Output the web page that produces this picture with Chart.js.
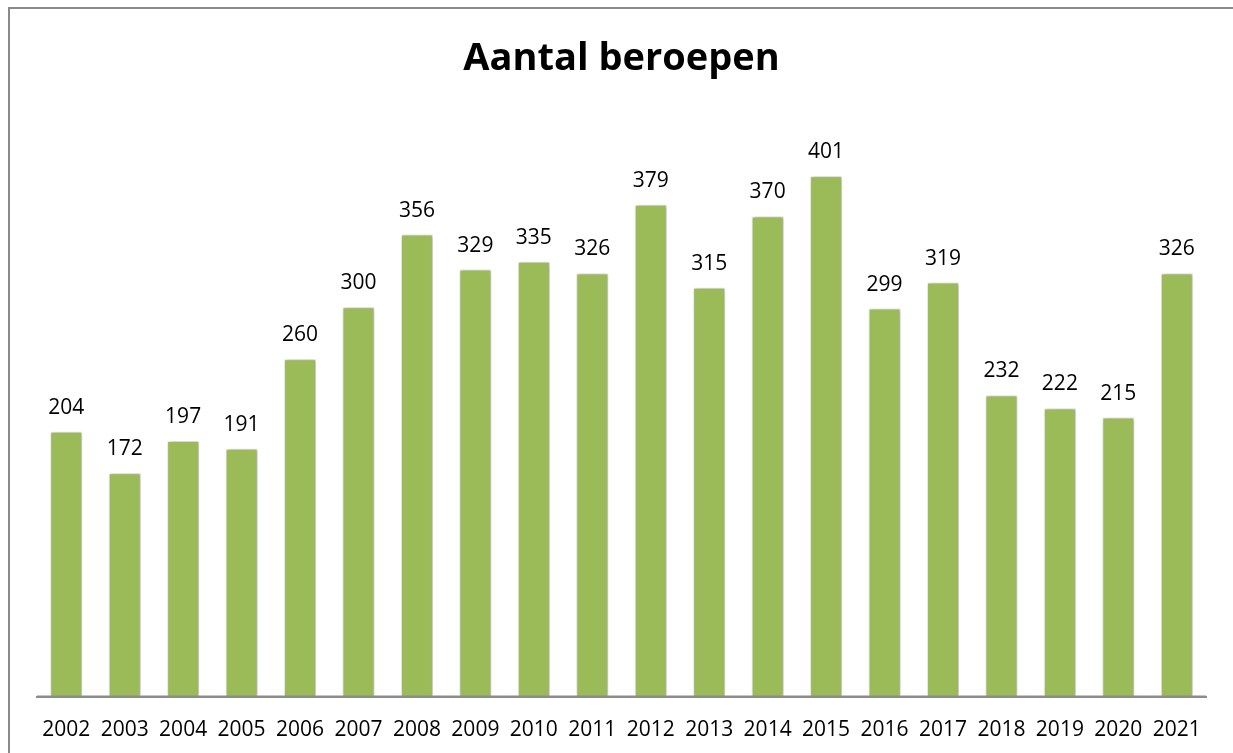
<!DOCTYPE html>
<html>
<head>
<meta charset="utf-8">
<script src="https://cdn.jsdelivr.net/npm/chart.js@4.4.1/dist/chart.umd.min.js"></script>
<style>
html,body{margin:0;padding:0;background:#fff;}
#wrap{position:relative;width:1233px;height:753px;}
</style>
</head>
<body>
<div id="wrap"><canvas id="c" width="1233" height="753"></canvas></div>
<script>
const titleText = 'Aantal beroepen';
const years = ['2002','2003','2004','2005','2006','2007','2008','2009','2010','2011','2012','2013','2014','2015','2016','2017','2018','2019','2020','2021'];
const beroepen = [204,172,197,191,260,300,356,329,335,326,379,315,370,401,299,319,232,222,215,326];

const FONT = "'Open Sans', 'DejaVu Sans', sans-serif";

const frame = {
  id: 'frame',
  beforeDraw(chart) {
    const ctx = chart.ctx;
    ctx.save();
    ctx.fillStyle = '#fff';
    ctx.fillRect(0, 0, chart.width, chart.height);
    ctx.strokeStyle = '#8a8a8a';
    ctx.lineWidth = 2;
    ctx.beginPath();
    ctx.moveTo(9, chart.height);
    ctx.lineTo(9, 8);
    ctx.lineTo(chart.width, 8);
    ctx.stroke();
    ctx.restore();
  }
};

const shadow = {
  id: 'shadow',
  beforeDatasetsDraw(chart) {
    const ctx = chart.ctx;
    ctx.save();
    ctx.shadowColor = 'rgba(0,0,0,0.35)';
    ctx.shadowBlur = 4;
    ctx.shadowOffsetX = 1;
    ctx.shadowOffsetY = 0;
  },
  afterDatasetsDraw(chart) {
    chart.ctx.restore();
    const ctx = chart.ctx;
    const a = chart.chartArea;
    ctx.save();
    ctx.strokeStyle = '#8c8c8c';
    ctx.lineWidth = 2;
    ctx.beginPath();
    ctx.moveTo(a.left, a.bottom);
    ctx.lineTo(a.right, a.bottom);
    ctx.stroke();
    ctx.restore();
  }
};

const valueLabels = {
  id: 'valueLabels',
  afterDatasetsDraw(chart) {
    const ctx = chart.ctx;
    const meta = chart.getDatasetMeta(0);
    ctx.save();
    ctx.font = '21px ' + FONT;
    ctx.fillStyle = '#000';
    ctx.textAlign = 'center';
    ctx.textBaseline = 'middle';
    meta.data.forEach((bar, i) => {
      ctx.fillText(String(beroepen[i]), bar.x, bar.y - 24);
    });
    ctx.restore();
  }
};

new Chart(document.getElementById('c'), {
  type: 'bar',
  data: {
    labels: years,
    datasets: [{
      data: beroepen,
      backgroundColor: '#9bbb59',
      borderColor: 'rgba(255,255,255,0.7)',
      borderWidth: 1,
      categoryPercentage: 1,
      barPercentage: 0.547
    }]
  },
  options: {
    responsive: false,
    animation: false,
    layout: { padding: { left: 37, right: 27, top: 32, bottom: 0 } },
    plugins: {
      legend: { display: false },
      tooltip: { enabled: false },
      title: {
        display: true,
        text: titleText,
        color: '#000',
        font: { family: FONT, size: 38, weight: 'bold' },
        padding: { top: 4, bottom: 31 }
      }
    },
    scales: {
      x: {
        grid: { display: false, drawTicks: false },
        border: { display: true, color: '#8c8c8c', width: 2 },
        ticks: { color: '#000', font: { family: FONT, size: 21 }, padding: 21, maxRotation: 0, autoSkip: false },
        afterFit(scale) { scale.height = 56.5; }
      },
      y: {
        display: false,
        min: 0,
        max: 450
      }
    }
  },
  plugins: [frame, shadow, valueLabels]
});
</script>
</body>
</html>
